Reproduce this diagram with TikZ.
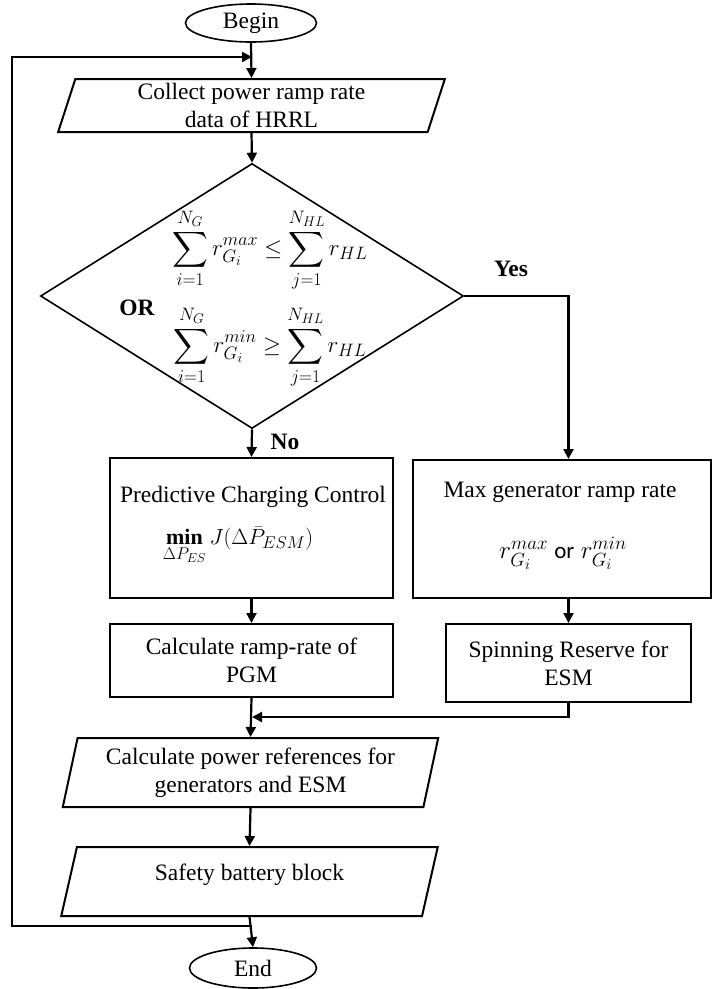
\RequirePackage{fix-cm}
\documentclass[tikz,border=0pt]{standalone}
\usepackage{amsmath}
\usepackage{fontspec}
\setmainfont{Liberation Serif}
\newfontfamily\carlito{Carlito}
\DeclareMathSizes{23}{23}{18}{14}
\DeclareMathSizes{22}{22}{17}{13}
\DeclareMathSizes{25}{25}{19}{15}
\usetikzlibrary{shapes.geometric,arrows.meta}

\begin{document}
\begin{tikzpicture}[x=1pt,y=-1pt,
  every node/.style={font=\fontsize{23.5}{28}\selectfont},
  term/.style={ellipse,draw,line width=1.6pt,inner sep=0pt},
  procbox/.style={rectangle,draw,line width=2pt,inner sep=0pt,align=center},
  iobox/.style={trapezium,trapezium left angle=76,trapezium right angle=104,
    trapezium stretches=true,draw,line width=2pt,inner sep=0pt,align=center},
  decision/.style={diamond,draw,line width=1.6pt,inner sep=0pt},
  mathtxt/.style={font=\fontsize{23}{27}\selectfont,inner sep=0pt},
  tag/.style={font=\fontsize{23.5}{28}\selectfont\bfseries,inner sep=0pt},
  flow/.style={line width=2.2pt,-{Triangle[length=10pt,width=10pt]}}
]
\useasboundingbox (0,0) rectangle (713,989);

% terminals
\node[term,minimum width=131pt,minimum height=38pt] (begin) at (251,23) {Begin};
\node[term,minimum width=127pt,minimum height=40pt] (end) at (253,968) {End};

% data collection
\node[iobox,minimum width=387pt,minimum height=53pt] (collect) at (251.5,105.5)
  {Collect power ramp rate\\data of HRRL};

% decision
\node[decision,minimum width=423pt,minimum height=265pt] (dec) at (252,296) {};
\node[mathtxt] (f1) at (270,250)
  {$\displaystyle\sum_{i=1}^{N_G} r_{G_i}^{max} \le \sum_{j=1}^{N_{HL}} r_{HL}$};
\node[mathtxt] (f2) at (270,347)
  {$\displaystyle\sum_{i=1}^{N_G} r_{G_i}^{min} \ge \sum_{j=1}^{N_{HL}} r_{HL}$};
\node[tag] (or) at (137,308) {OR};
\node[tag] (yes) at (511,269) {Yes};
\node[tag] (no) at (285,442) {No};

% branch boxes
\node[procbox,minimum width=283pt,minimum height=140pt] (pcc) at (251.5,528) {};
\node (pcctext) at (253,497) {Predictive Charging Control};
\node[mathtxt,font=\fontsize{22}{26}\selectfont] (pccmath) at (238,546)
  {$\mathop{\mathbf{min}}\limits_{\Delta P_{ES}} J(\Delta\bar{P}_{ESM})$};

\node[procbox,minimum width=298pt,minimum height=138pt] (mg) at (562,529) {};
\node (mgtext) at (560,492) {Max generator ramp rate};
\node[mathtxt,font=\fontsize{25}{29}\selectfont] (mgmath) at (563,553)
  {$r_{G_i}^{max}$ {\carlito\fontsize{23}{27}\selectfont or} $r_{G_i}^{min}$};

\node[procbox,minimum width=283pt,minimum height=73pt] (pgm) at (251.5,660.5)
  {Calculate ramp-rate of\\PGM};
\node[procbox,minimum width=245pt,minimum height=78pt] (spin) at (568.5,663)
  {Spinning Reserve for\\ESM};

% outputs
\node[iobox,minimum width=377pt,minimum height=69pt] (calc) at (250.5,772.5)
  {Calculate power references for\\generators and ESM};
\node[iobox,minimum width=377pt,minimum height=69pt] (safety) at (249.5,881.5)
  {Safety battery block\\[-10pt]\mbox{}};

% junction points
\coordinate (loopin) at (252,57);
\coordinate (loopout) at (252,926);
\coordinate (leftlow) at (12,926);
\coordinate (lefthigh) at (12,57);
\coordinate (merge) at (252,717);
\coordinate (spinturn) at (568.5,717);

% connectors
\draw[flow] (begin.south) -- (collect.north);
\draw[flow] (collect.south) -- (dec.north);
\draw[flow] (dec.south) -- (pcc.north);
\draw[flow] (dec.east) -| (spin.north |- mg.north);
\draw[flow] (pcc.south) -- (pgm.north);
\draw[flow] (spin.north |- mg.south) -- (spin.north);
\draw[flow] (pgm.south) -- (calc.north);
\draw[flow] (spin.south) -- (spinturn) -- (merge);
\draw[flow] (calc.south) -- (safety.north);
\draw[flow] (safety.south) -- (end.north);
\draw[flow] (loopout) -- (leftlow) -- (lefthigh) -- (loopin);
\end{tikzpicture}
\end{document}
